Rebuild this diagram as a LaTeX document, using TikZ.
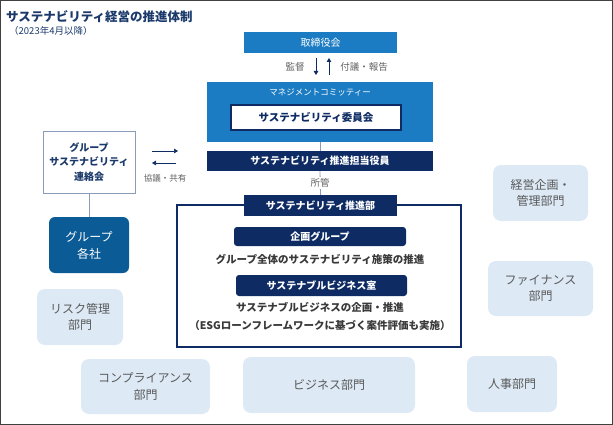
\documentclass[tikz,border=0pt]{standalone}
\usepackage{fontspec}
\setmainfont{Noto Sans CJK JP}
\usetikzlibrary{arrows.meta}
\definecolor{ttlnavy}{HTML}{1B3A6B}
\definecolor{midblue}{HTML}{1C7CC3}
\definecolor{deepnavy}{HTML}{0E2B63}
\definecolor{groupblue}{HTML}{0B5B96}
\definecolor{paleblue}{HTML}{DDEAF6}
\definecolor{palegray}{HTML}{595959}
\definecolor{bodygray}{HTML}{3A3A3A}
\definecolor{edgegray}{HTML}{8A9CBB}
\definecolor{framegray}{HTML}{404040}
\tikzset{
  bluebox/.style={fill=midblue, text=white, inner sep=0pt, font=\fontsize{10}{12}\selectfont},
  navybar/.style={fill=deepnavy, text=white, inner sep=0pt, font=\bfseries\fontsize{10}{12}\selectfont},
  navypill/.style={navybar, rounded corners=3pt},
  palebox/.style={fill=paleblue, text=palegray, rounded corners=8pt, inner sep=0pt, align=center, font=\fontsize{12}{16.5}\selectfont},
  bodytext/.style={text=bodygray, font=\bfseries\fontsize{10.5}{12}\selectfont},
  smalltext/.style={text=bodygray!80, font=\fontsize{9.5}{11}\selectfont},
  tip/.style={-{Triangle[length=4pt,width=4.5pt]}, deepnavy, line width=0.8pt},
  link/.style={draw=edgegray, line width=0.8pt}
}
\begin{document}
\begin{tikzpicture}[x=1pt, y=-1pt]
		%%%%% START %%%%%
		\useasboundingbox (0,0) rectangle (613,425);
		\fill[white] (0,0) rectangle (613,425);
		\draw[framegray, line width=1.2pt] (0.6,0.6) rectangle (612.4,424.4);
		
		% title
		\node[anchor=west, text=ttlnavy, font=\bfseries\fontsize{12.5}{14}\selectfont, inner sep=0pt] (title) at (6,17) {サステナビリティ経営の推進体制};
		\node[anchor=west, text=ttlnavy, font=\fontsize{9.5}{11}\selectfont, inner sep=0pt] (since) at (9,31) {（2023年4月以降）};
		
		% board and committee
		\node[bluebox, minimum width=153pt, minimum height=21pt] (board) at (320.5,43) {取締役会};
		\node[bluebox, minimum width=226pt, minimum height=60pt] (mgmt) at (320,112) {};
		\node[text=white, font=\fontsize{8.5}{10}\selectfont, inner sep=0pt] (mgmtlabel) at (320,92) {マネジメントコミッティー};
		\node[fill=white, draw=deepnavy, line width=1.6pt, text=deepnavy, inner sep=0pt, minimum width=170pt, minimum height=25pt, font=\bfseries\fontsize{10.5}{12}\selectfont] (iinkai) at (316,117.5) {サステナビリティ委員会};
		
		\coordinate (dtop) at (316,58);
		\coordinate (dbot) at (316,75);
		\coordinate (utop) at (329,58);
		\coordinate (ubot) at (329,75);
		\draw[tip] (dtop) -- (dbot);
		\draw[tip] (ubot) -- (utop);
		\node[smalltext] (kantoku) at (295,67) {監督};
		\node[smalltext] (fugi) at (364,67) {付議・報告};
		
		% officer and department
		\node[navybar, minimum width=226pt, minimum height=20pt] (officer) at (320,161) {サステナビリティ推進担当役員};
		\draw[link] (mgmt.south) -- (officer.north);
		\draw[deepnavy, line width=1.6pt] (177,205) rectangle (461,347);
		\node[navybar, minimum width=153pt, minimum height=21pt] (suishin) at (320.5,205.5) {サステナビリティ推進部};
		\draw[link] (officer.south) -- (suishin.north);
		\node[smalltext, fill=white, inner sep=1.5pt] (shokan) at (320,183) {所管};
		
		\node[navypill, minimum width=172pt, minimum height=19pt] (kikaku) at (320,236.5) {企画グループ};
		\node[bodytext] (kikakutxt) at (320,259) {グループ全体のサステナビリティ施策の推進};
		\node[navypill, minimum width=171pt, minimum height=21pt] (sbiz) at (321.5,285.5) {サステナブルビジネス室};
		\node[bodytext] (sbiztxt) at (320,307) {サステナブルビジネスの企画・推進};
		\node[bodytext] (esgtxt) at (320,326) {（ESGローンフレームワークに基づく案件評価も実施）};
		
		% group side
		\node[draw=edgegray, line width=0.8pt, fill=white, text=ttlnavy, align=center, minimum width=92pt, minimum height=62pt, inner sep=0pt, font=\bfseries\fontsize{10}{14.5}\selectfont] (renraku) at (89,162) {グループ\\サステナビリティ\\連絡会};
		\node[fill=groupblue, text=white, rounded corners=6pt, align=center, minimum width=80pt, minimum height=56pt, inner sep=0pt, font=\fontsize{12}{17}\selectfont] (kakusha) at (89,245) {グループ\\各社};
		\draw[link] (renraku.south) -- (kakusha.north);
		
		\coordinate (rgtA) at (152,151);
		\coordinate (rgtB) at (178,151);
		\coordinate (lftA) at (176,163);
		\coordinate (lftB) at (152,163);
		\draw[tip, line width=0.7pt] (rgtA) -- (rgtB);
		\draw[tip, line width=0.7pt] (lftA) -- (lftB);
		\node[smalltext, font=\fontsize{8.5}{10}\selectfont] (kyogi) at (165,178) {協議・共有};
		
		% other departments
		\node[palebox, minimum width=86pt, minimum height=56pt] (risk) at (80,317) {リスク管理\\部門};
		\node[palebox, minimum width=129pt, minimum height=55pt] (comp) at (145.5,386.5) {コンプライアンス\\部門};
		\node[palebox, minimum width=172pt, minimum height=56pt] (biz) at (329,385) {ビジネス部門};
		\node[palebox, minimum width=90pt, minimum height=56pt] (jinji) at (512,384) {人事部門};
		\node[palebox, minimum width=105pt, minimum height=55pt] (fin) at (540.5,288.5) {ファイナンス\\部門};
		\node[palebox, minimum width=95pt, minimum height=56pt] (keiei) at (540.5,193) {経営企画・\\管理部門};
		
		%%%%% END %%%%%
\end{tikzpicture}
\end{document}
